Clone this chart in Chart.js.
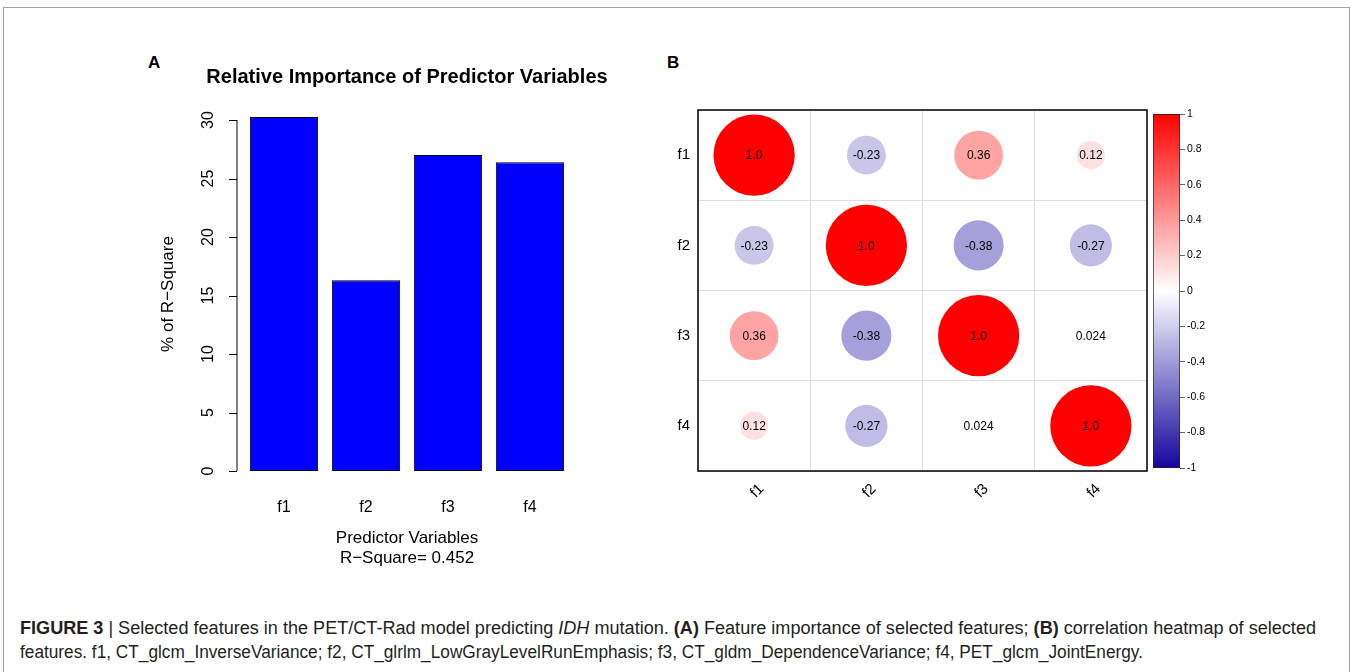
<!DOCTYPE html>
<html>
<head>
<meta charset="utf-8">
<script src="https://cdn.jsdelivr.net/npm/chart.js@4.4.1/dist/chart.umd.min.js"></script>
<style>
    html, body { margin: 0; padding: 0; background: #fff; }
    body { width: 1352px; height: 672px; position: relative; overflow: hidden; font-family: "Liberation Sans", Arial, sans-serif; }
    .frame { position: absolute; left: 3px; top: 7px; width: 1345px; height: 700px; border: 1.5px solid #a3a3a3; border-bottom: none; }
    .tag { position: absolute; font-weight: bold; font-size: 17px; line-height: 20px; color: #000; }
    canvas { position: absolute; }
    .caption { position: absolute; left: 20px; top: 616px; font-family: "Liberation Sans", Arial, sans-serif; font-size: 18px; line-height: 24px; color: #231f20; white-space: nowrap; }
    .caption div { transform-origin: 0 50%; width: max-content; }
</style>
</head>
<body>
<div class="frame"></div>
<div class="tag" style="left:148px; top:53px;">A</div>
<div class="tag" style="left:667px; top:53px;">B</div>

<canvas id="barChart" width="560" height="540" style="left:130px; top:40px;"></canvas>
<canvas id="corrChart" width="600" height="440" style="left:640px; top:90px;"></canvas>
<canvas id="scaleChart" width="90" height="380" style="left:1140px; top:100px;"></canvas>

<div class="caption">
    <div id="cap1"><b>FIGURE 3</b> | Selected features in the PET/CT-Rad model predicting <i>IDH</i> mutation. <b>(A)</b> Feature importance of selected features; <b>(B)</b> correlation heatmap of selected</div>
    <div id="cap2">features. f1, CT_glcm_InverseVariance; f2, CT_glrlm_LowGrayLevelRunEmphasis; f3, CT_gldm_DependenceVariance; f4, PET_glcm_JointEnergy.</div>
</div>

<script>
// panel A
const FEATURES = ['f1', 'f2', 'f3', 'f4'];
const IMPORTANCE = [30.26, 16.3, 27.0, 26.4];
const IMPORTANCE_TICKS = [0, 5, 10, 15, 20, 25, 30];

// panel B
const CORR = [
    [1.0, -0.23, 0.36, 0.12],
    [-0.23, 1.0, -0.38, -0.27],
    [0.36, -0.38, 1.0, 0.024],
    [0.12, -0.27, 0.024, 1.0],
];
const LEGEND_TICKS = [-1, -0.8, -0.6, -0.4, -0.2, 0, 0.2, 0.4, 0.6, 0.8, 1];
const COLOR_STOPS = ['#14069E', '#FFFFFF', '#FF0000'];

const FONT = '"Liberation Sans", Arial, sans-serif';
Chart.defaults.font.family = FONT;
Chart.defaults.color = '#000';
Chart.defaults.animation = false;
Chart.defaults.events = [];
Chart.defaults.plugins.legend.display = false;
Chart.defaults.plugins.tooltip.enabled = false;

function hexToRgb(hex) {
    const n = parseInt(hex.slice(1), 16);
    return [(n >> 16) & 255, (n >> 8) & 255, n & 255];
}

function corrColor(v) {
    const lo = hexToRgb(COLOR_STOPS[1]);
    const hi = hexToRgb(v < 0 ? COLOR_STOPS[0] : COLOR_STOPS[2]);
    const t = Math.min(1, Math.abs(v));
    const c = lo.map((l, i) => Math.round(l + (hi[i] - l) * t));
    return `rgb(${c[0]}, ${c[1]}, ${c[2]})`;
}

// R-style axis: detached line, outward ticks, labels turned upright; title over the plot
const rAxisPlugin = {
    id: 'rAxis',
    afterDraw(chart) {
        const { ctx, chartArea } = chart;
        const yScale = chart.scales.y;
        const x0 = chartArea.left - 6;
        ctx.save();
        ctx.strokeStyle = '#000';
        ctx.lineWidth = 1;
        ctx.beginPath();
        ctx.moveTo(x0, yScale.getPixelForValue(IMPORTANCE_TICKS[0]));
        ctx.lineTo(x0, yScale.getPixelForValue(IMPORTANCE_TICKS[IMPORTANCE_TICKS.length - 1]));
        IMPORTANCE_TICKS.forEach((t) => {
            const py = Math.round(yScale.getPixelForValue(t)) + 0.5;
            ctx.moveTo(x0, py);
            ctx.lineTo(x0 - 8, py);
        });
        ctx.stroke();
        ctx.fillStyle = '#000';
        ctx.font = `16px ${FONT}`;
        ctx.textAlign = 'center';
        ctx.textBaseline = 'middle';
        IMPORTANCE_TICKS.forEach((t) => {
            ctx.save();
            ctx.translate(x0 - 28, yScale.getPixelForValue(t));
            ctx.rotate(-Math.PI / 2);
            ctx.fillText(String(t), 0, 0);
            ctx.restore();
        });
        ctx.font = `bold 20px ${FONT}`;
        ctx.fillText('Relative Importance of Predictor Variables', (chartArea.left + chartArea.right) / 2, 37);
        ctx.restore();
    },
};

new Chart(document.getElementById('barChart'), {
    type: 'bar',
    data: {
        labels: FEATURES,
        datasets: [{
            data: IMPORTANCE,
            backgroundColor: '#0000FF',
            borderColor: '#000',
            borderWidth: 1,
            borderSkipped: false,
            barPercentage: 0.833,
            categoryPercentage: 1,
        }],
    },
    options: {
        responsive: false,
        layout: { padding: { left: 10, right: 119, top: 62.8, bottom: 12 } },
        scales: {
            x: {
                grid: { display: false, drawTicks: false },
                border: { display: false },
                ticks: { font: { size: 16, lineHeight: '18px' }, color: '#000', padding: 13 },
                title: {
                    display: true,
                    text: ['Predictor Variables', 'R\u2212Square= 0.452'],
                    font: { size: 17, lineHeight: '20px' },
                    color: '#000',
                    padding: { top: 0, bottom: 0 },
                },
                afterFit: (scale) => { scale.height = 82.8; },
            },
            y: {
                min: -1.21,
                max: 31.47,
                grid: { display: false, drawTicks: false },
                border: { display: false },
                ticks: { display: false },
                title: {
                    display: true,
                    text: '% of R\u2212Square',
                    font: { size: 17, lineHeight: '20px' },
                    color: '#000',
                    padding: { top: 18, bottom: 0 },
                },
                afterFit: (scale) => { scale.width = 103; },
            },
        },
    },
    plugins: [rAxisPlugin],
});

// circles of the correlation matrix
const corrPoints = [];
CORR.forEach((row, i) => {
    row.forEach((v, j) => {
        corrPoints.push({ x: FEATURES[j], y: FEATURES[i], v });
    });
});

function corrLabel(v) {
    return v === 1 ? '1.0' : String(v);
}

const CORR_PADDING = { left: 0, right: 93, top: 20, bottom: 59 };

// circle area follows |r|; a full circle spans 90% of the cell height.
// Radii get resolved before the layout pass, so the cell comes from the canvas size.
function cellRadius(c) {
    const plotHeight = c.chart.height - CORR_PADDING.top - CORR_PADDING.bottom;
    const cell = plotHeight / FEATURES.length;
    const p = corrPoints[c.dataIndex];
    return p ? Math.sqrt(Math.abs(p.v)) * cell * 0.45 : 0;
}

const corrDecorPlugin = {
    id: 'corrDecor',
    afterDatasetsDraw(chart) {
        const { ctx, chartArea } = chart;
        const meta = chart.getDatasetMeta(0);
        ctx.save();
        ctx.fillStyle = '#000';
        ctx.font = `12px ${FONT}`;
        ctx.textAlign = 'center';
        ctx.textBaseline = 'middle';
        meta.data.forEach((el, k) => {
            ctx.fillText(corrLabel(corrPoints[k].v), el.x, el.y + 1);
        });

        ctx.strokeStyle = '#000';
        ctx.lineWidth = 1.5;
        ctx.strokeRect(chartArea.left, chartArea.top, chartArea.right - chartArea.left, chartArea.bottom - chartArea.top);

        const xScale = chart.scales.x;
        ctx.font = `15px ${FONT}`;
        FEATURES.forEach((name, j) => {
            ctx.save();
            ctx.translate(xScale.getPixelForValue(j) + 3, chartArea.bottom + 20);
            ctx.rotate(-Math.PI / 4);
            ctx.fillText(name, 0, 0);
            ctx.restore();
        });
        ctx.restore();
    },
};

new Chart(document.getElementById('corrChart'), {
    type: 'bubble',
    data: {
        datasets: [{
            data: corrPoints,
            backgroundColor: (c) => corrColor(corrPoints[c.dataIndex] ? corrPoints[c.dataIndex].v : 0),
            borderWidth: 0,
            radius: cellRadius,
            clip: false,
        }],
    },
    options: {
        responsive: false,
        layout: { autoPadding: false, padding: CORR_PADDING },
        scales: {
            x: {
                type: 'category',
                labels: FEATURES,
                offset: true,
                grid: { color: '#dcdcdc', offset: true, drawTicks: false },
                border: { display: false },
                ticks: { display: false },
                afterFit: (scale) => { scale.height = 0; },
            },
            y: {
                type: 'category',
                labels: FEATURES,
                offset: true,
                grid: { color: '#dcdcdc', offset: true, drawTicks: false },
                border: { display: false },
                ticks: { font: { size: 15 }, color: '#000', padding: 8 },
                afterFit: (scale) => { scale.width = 58; },
            },
        },
    },
    plugins: [corrDecorPlugin],
});

// colour legend for panel B
new Chart(document.getElementById('scaleChart'), {
    type: 'bar',
    data: {
        labels: [''],
        datasets: [{
            data: [[LEGEND_TICKS[0], LEGEND_TICKS[LEGEND_TICKS.length - 1]]],
            backgroundColor: (c) => {
                const chart = c.chart;
                if (!chart.chartArea) return COLOR_STOPS[1];
                const ys = chart.scales.y;
                const g = chart.ctx.createLinearGradient(0, ys.getPixelForValue(-1), 0, ys.getPixelForValue(1));
                COLOR_STOPS.forEach((col, i) => g.addColorStop(i / (COLOR_STOPS.length - 1), col));
                return g;
            },
            borderColor: '#222',
            borderWidth: 1,
            borderSkipped: false,
            barPercentage: 1,
            categoryPercentage: 1,
        }],
    },
    options: {
        responsive: false,
        layout: { padding: { left: 13, right: 0, top: 14, bottom: 12 } },
        scales: {
            x: { display: false },
            y: {
                position: 'right',
                min: -1,
                max: 1,
                afterBuildTicks: (scale) => { scale.ticks = LEGEND_TICKS.map((v) => ({ value: v })); },
                grid: { drawOnChartArea: false, drawTicks: true, tickLength: 5, color: '#666' },
                border: { display: false },
                ticks: { font: { size: 10.5 }, color: '#000', padding: 2, callback: (v) => String(v) },
                afterFit: (scale) => { scale.width = 50; },
            },
        },
    },
});

// caption lines are set to the widths they have in the figure
[['cap1', 1296], ['cap2', 1123]].forEach(([id, target]) => {
    const line = document.getElementById(id);
    line.style.transform = `scaleX(${target / line.getBoundingClientRect().width})`;
});
</script>
</body>
</html>
